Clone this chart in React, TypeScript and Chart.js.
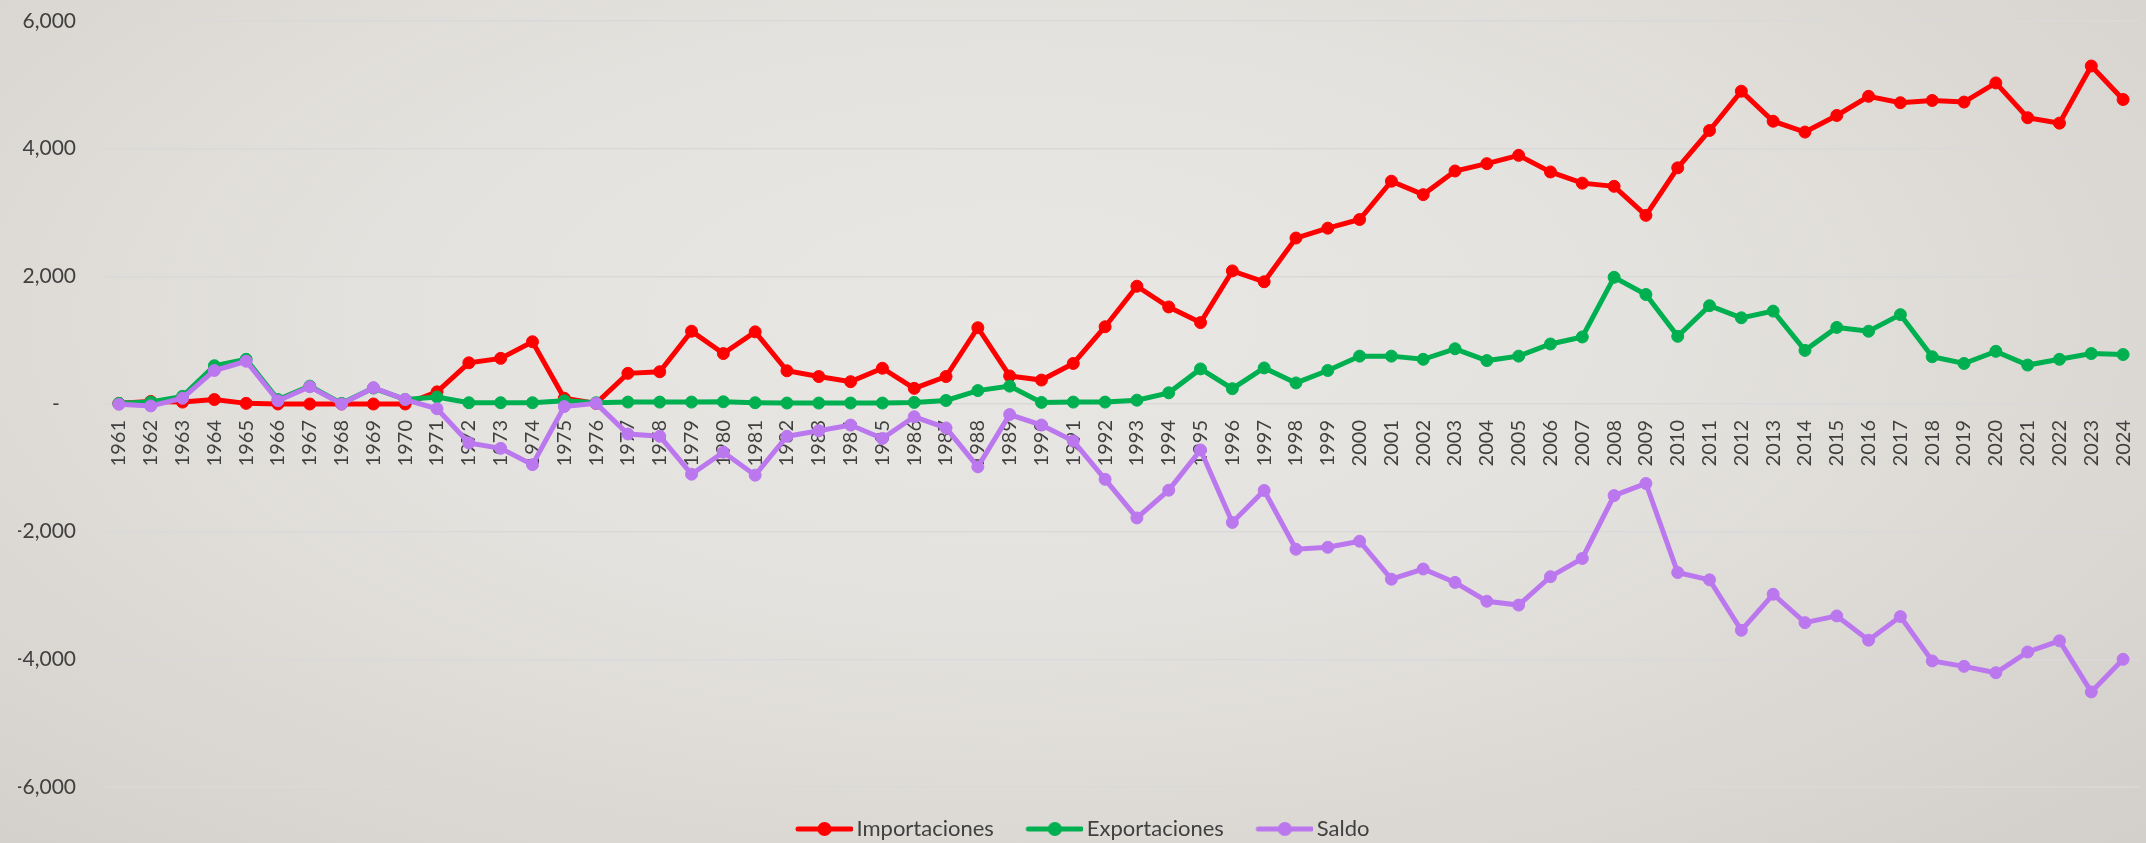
import React, { useEffect, useRef } from "react";
import { Chart, registerables } from "chart.js";

Chart.register(...registerables);

const years = [
  "1961","1962","1963","1964","1965","1966","1967","1968","1969","1970",
  "1971","1972","1973","1974","1975","1976","1977","1978","1979","1980",
  "1981","1982","1983","1984","1985","1986","1987","1988","1989","1990",
  "1991","1992","1993","1994","1995","1996","1997","1998","1999","2000",
  "2001","2002","2003","2004","2005","2006","2007","2008","2009","2010",
  "2011","2012","2013","2014","2015","2016","2017","2018","2019","2020",
  "2021","2022","2023","2024",
];

const importaciones = [
  10, 40, 30, 70, 10, 0, 0, 0, 0, 0,
  190, 645, 715, 975, 90, 10, 480, 505, 1140, 790,
  1130, 520, 430, 350, 560, 245, 430, 1195, 440, 375,
  635, 1210, 1845, 1520, 1275, 2085, 1915, 2600, 2755, 2890,
  3490, 3280, 3650, 3765, 3895, 3635, 3460, 3410, 2955, 3700,
  4285, 4900, 4430, 4260, 4520, 4820, 4720, 4755, 4730, 5030,
  4485, 4400, 5295, 4770,
];

const exportaciones = [
  10, 30, 120, 600, 700, 70, 280, 10, 250, 70,
  110, 20, 20, 20, 50, 20, 30, 30, 30, 35,
  20, 15, 15, 15, 15, 25, 55, 210, 280, 25,
  30, 30, 60, 175, 550, 240, 565, 330, 525, 750,
  750, 700, 865, 680, 750, 940, 1050, 1985, 1715, 1060,
  1540, 1350, 1455, 840, 1200, 1140, 1400, 740, 635, 825,
  610, 700, 790, 775,
];

const saldo = [
  -5, -30, 90, 525, 670, 50, 270, 0, 255, 70,
  -75, -610, -695, -950, -40, 10, -470, -505, -1100, -755,
  -1115, -505, -420, -330, -540, -200, -375, -985, -165, -330,
  -580, -1180, -1785, -1350, -720, -1855, -1355, -2275, -2245, -2150,
  -2745, -2585, -2795, -3090, -3150, -2705, -2420, -1435, -1245, -2640,
  -2755, -3545, -2980, -3425, -3320, -3700, -3330, -4025, -4110, -4210,
  -3885, -3710, -4510, -4000,
];

const seriesLabels = ["Importaciones", "Exportaciones", "Saldo"];
const seriesColors = ["#FF0000", "#00B050", "#BB77EE"];
const yTicks = [-6000, -4000, -2000, 0, 2000, 4000, 6000];

const FONT = "Lato";
const TEXT = "#404040";

function makeLegendMarker(color: string) {
  const c = document.createElement("canvas");
  c.width = 66;
  c.height = 16;
  const ctx = c.getContext("2d")!;
  ctx.strokeStyle = color;
  ctx.lineWidth = 5;
  ctx.lineCap = "round";
  ctx.beginPath();
  ctx.moveTo(11, 8);
  ctx.lineTo(64, 8);
  ctx.stroke();
  ctx.fillStyle = color;
  ctx.beginPath();
  ctx.arc(37.5, 8, 7, 0, Math.PI * 2);
  ctx.fill();
  return c;
}

export default function App() {
  const ref = useRef<HTMLCanvasElement | null>(null);

  useEffect(() => {
    if (!ref.current) return;
    const markers = seriesColors.map(makeLegendMarker);
    const values = [importaciones, exportaciones, saldo];
    const chart = new Chart(ref.current, {
      type: "line",
      data: {
        labels: years,
        datasets: values.map((d, i) => ({
          label: seriesLabels[i],
          data: d,
          borderColor: seriesColors[i],
          backgroundColor: seriesColors[i],
          pointBackgroundColor: seriesColors[i],
          pointBorderColor: seriesColors[i],
          borderWidth: 5,
          pointRadius: 6,
          pointBorderWidth: 1,
          tension: 0,
          order: 3 - i,
        })),
      },
      options: {
        animation: false,
        responsive: false,
        devicePixelRatio: 1,
        layout: { padding: { left: 18, right: 0, top: 21, bottom: -7 } },
        plugins: {
          tooltip: { enabled: false },
          legend: {
            position: "bottom",
            labels: {
              usePointStyle: true,
              pointStyleWidth: 51,
              padding: 31,
              color: TEXT,
              font: { family: FONT, size: 22 },
              generateLabels: () =>
                seriesLabels.map((t, i) => ({
                  text: t,
                  fillStyle: seriesColors[i],
                  strokeStyle: seriesColors[i],
                  lineWidth: 0,
                  pointStyle: markers[i] as any,
                  hidden: false,
                  datasetIndex: i,
                  fontColor: TEXT,
                })),
            },
          },
        },
        scales: {
          x: {
            type: "category",
            offset: true,
            position: { y: 0 } as any,
            grid: { display: false, drawTicks: false },
            border: { display: false },
            afterFit: (scale: any) => {
              scale.paddingLeft = 0;
              scale.paddingRight = 0;
            },
            ticks: {
              autoSkip: false,
              minRotation: 90,
              maxRotation: 90,
              padding: 16,
              color: TEXT,
              font: { family: FONT, size: 20 },
            },
          },
          y: {
            min: -6000,
            max: 6000,
            afterBuildTicks: (scale: any) => {
              scale.ticks = yTicks.map((v) => ({ value: v }));
            },
            afterFit: (scale: any) => {
              scale.width = 85;
              scale.paddingTop = 0;
              scale.paddingBottom = 0;
            },
            grid: { color: "#d9d9d9", lineWidth: 1.5, drawTicks: false },
            border: { display: false },
            ticks: {
              padding: 27,
              color: TEXT,
              font: { family: FONT, size: 21 },
              callback: (v: any) =>
                Number(v) === 0 ? "-   " : Number(v).toLocaleString("en-US"),
            },
          },
        },
      },
    });
    return () => chart.destroy();
  }, []);

  return (
    <div
      style={{
        position: "fixed",
        left: 0,
        top: 0,
        width: 2146,
        height: 843,
        overflow: "hidden",
        background:
          "radial-gradient(ellipse 75% 90% at 47% 38%, #e9e7e3 0%, #e4e2de 40%, #dad7d2 75%, #d2cfca 100%)",
      }}
    >
      <canvas ref={ref} width={2146} height={843} style={{ display: "block" }} />
    </div>
  );
}
